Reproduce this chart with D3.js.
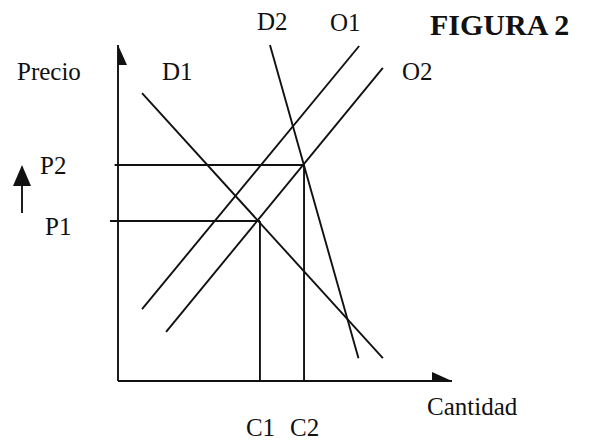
<!DOCTYPE html>
<html>
<head>
<meta charset="utf-8">
<script src="https://cdn.jsdelivr.net/npm/d3@7"></script>
<style>
  html, body { margin: 0; padding: 0; background: #fff; }
  text { font-family: "Liberation Serif", "DejaVu Serif", serif; fill: #111; }
</style>
</head>
<body>
<svg id="chart" width="591" height="442"></svg>
<script>
// ---- data (quantity 0..100, price 0..100) ----
const curveNames = ["D1", "D2", "O1", "O2"];
const curveStart = [[7.2, 85.7], [45.5, 100], [7.2, 21.4], [14.4, 14.6]];
const curveEnd   = [[79.3, 6.8], [72.0, 6.8], [72.2, 99.7], [79.3, 93.2]];
const priceLabels = ["P1", "P2"];
const priceValues = [47.6, 64.3];
const qtyLabels = ["C1", "C2"];
const qtyValues = [42.5, 55.7];
const title = "FIGURA 2";
const yAxisTitle = "Precio";
const xAxisTitle = "Cantidad";

const svg = d3.select("#chart");
const x = d3.scaleLinear().domain([0, 100]).range([118, 452]);
const y = d3.scaleLinear().domain([0, 100]).range([381, 45]);
const ink = "#111";
const sw = 1.9;

// axes
svg.append("line").attr("x1", x(0)).attr("x2", x(0)).attr("y1", y(0)).attr("y2", y(100))
  .attr("stroke", ink).attr("stroke-width", sw);
svg.append("line").attr("x1", x(0)).attr("x2", x(100)).attr("y1", y(0)).attr("y2", y(0))
  .attr("stroke", ink).attr("stroke-width", sw);
// half arrowheads
svg.append("path")
  .attr("d", `M${x(0)},${y(100)} L${x(0) + 9},${y(100) + 20} L${x(0)},${y(100) + 20} Z`)
  .attr("fill", ink);
svg.append("path")
  .attr("d", `M${x(100)},${y(0)} L${x(100) - 20},${y(0) - 9} L${x(100) - 20},${y(0)} Z`)
  .attr("fill", ink);

// guide lines
svg.selectAll(".pline").data(priceValues).join("line")
  .attr("x1", (d, i) => x(i === 0 ? -2.4 : -1)).attr("x2", (d, i) => x(qtyValues[i]))
  .attr("y1", d => y(d)).attr("y2", d => y(d))
  .attr("stroke", ink).attr("stroke-width", sw);
svg.selectAll(".qline").data(qtyValues).join("line")
  .attr("x1", d => x(d)).attr("x2", d => x(d))
  .attr("y1", (d, i) => y(priceValues[i])).attr("y2", y(0))
  .attr("stroke", ink).attr("stroke-width", sw);

// curves
svg.selectAll(".curve").data(curveNames).join("line")
  .attr("x1", (d, i) => x(curveStart[i][0])).attr("y1", (d, i) => y(curveStart[i][1]))
  .attr("x2", (d, i) => x(curveEnd[i][0])).attr("y2", (d, i) => y(curveEnd[i][1]))
  .attr("stroke", ink).attr("stroke-width", sw);

// labels
const fs = 25;
function label(t, px, py, opts = {}) {
  svg.append("text").attr("x", px).attr("y", py)
    .attr("font-size", opts.size || fs)
    .attr("font-weight", opts.bold ? "bold" : "normal")
    .text(t);
}
label(yAxisTitle, 17, 80);
label(xAxisTitle, 427, 415);
label(title, 430, 35, { size: 30, bold: true });
const curveLabelPos = [[162, 80], [257, 30], [330, 31], [402, 80]];
curveNames.forEach((n, i) => label(n, curveLabelPos[i][0], curveLabelPos[i][1]));
label(priceLabels[1], 40, y(priceValues[1]) + 9);
label(priceLabels[0], 45, y(priceValues[0]) + 14);
qtyLabels.forEach((n, i) => label(n, x(qtyValues[i]) - 14, 436));

// upward arrow (price increase)
svg.append("line").attr("x1", 22).attr("x2", 22).attr("y1", 184).attr("y2", 213)
  .attr("stroke", ink).attr("stroke-width", sw);
svg.append("path").attr("d", "M22,165 L31,186 L13,186 Z").attr("fill", ink);
</script>
</body>
</html>
